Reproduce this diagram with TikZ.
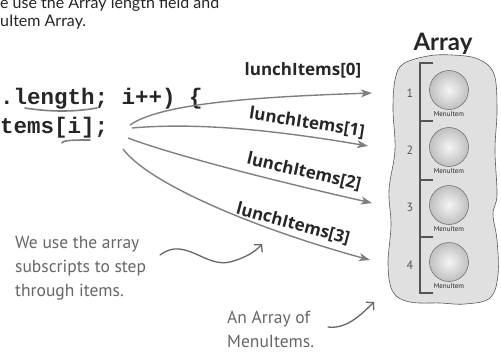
\documentclass[tikz,border=0pt]{standalone}
\usepackage{fontspec}
\usetikzlibrary{positioning, arrows.meta, calc}
\newfontfamily\codefont{Liberation Mono}
\newfontfamily\labelfont{Open Sans}
\newfontfamily\notefont{PT Sans}
\newfontfamily\headfont{Lato}
\definecolor{arrowgray}{HTML}{7F7F7F}
\definecolor{notegray}{HTML}{666666}
\definecolor{blobgray}{HTML}{E0E0E0}
\definecolor{inkgray}{HTML}{555555}

\begin{document}
\begin{tikzpicture}[
				x=1pt, y=-1pt,
				% --- STYLES ---
				toptext/.style={
					font=\headfont\fontsize{16}{18}\selectfont, anchor=base west, inner sep=0pt, text=black!85
				},
				codetext/.style={
					font=\codefont\bfseries\fontsize{22.5}{24}\selectfont, anchor=base west, inner sep=0pt, text=black!85
				},
				idxlabel/.style={
					font=\labelfont\bfseries\fontsize{17}{17}\selectfont, text=black!85, inner sep=0pt
				},
				note/.style={
					font=\notefont\fontsize{17.5}{24}\selectfont, text=notegray, align=left, inner sep=0pt, anchor=north west
				},
				line/.style={
					draw=arrowgray, line width=1.4pt, -{Stealth[length=11pt, width=8pt, inset=3pt]}
				},
				handline/.style={
					draw=notegray, line width=1.3pt, line cap=round, -{Straight Barb[length=5pt, width=11pt]}
				},
				underl/.style={
					draw=arrowgray, line width=1.6pt, line cap=round
				},
				slotball/.style={
					circle, minimum size=39pt, inner sep=0pt, draw=gray!80!black, line width=0.5pt,
					inner color=gray!8, outer color=gray!50
				},
				slotname/.style={
					font=\notefont\fontsize{7}{7}\selectfont, text=black!85, inner sep=0pt
				},
				slotnum/.style={
					font=\notefont\fontsize{12}{12}\selectfont, text=inkgray, inner sep=0pt
				}
				]
				
				\useasboundingbox (0,0) rectangle (501,356);
				\clip (0,0) rectangle (501,356);
				
				% ==========================================
				% 1. Text and code at the top left
				% ==========================================
				\node [toptext] (top1) at (0,9) {e use the Array length field and};
				\node [toptext] (top2) at (0,27) {uItem Array.};
				
				\node [codetext] (code1) at (0,104) {.length; i++) \{};
				\node [codetext] (code2) at (0,133) {tems[i];};
				\draw [underl] (25,108) .. controls (50,112) and (75,112) .. (97,108);
				\draw [underl] (62,143) .. controls (63,140) and (75,140) .. (90,140);
				
				% ==========================================
				% 2. The array with its four slots
				% ==========================================
				\node [font=\headfont\bfseries\fontsize{24}{24}\selectfont, text=black!85] (title) at (443,44) {Array};
				
				\draw [draw=gray!70!black, fill=blobgray, line width=0.6pt] plot [smooth cycle, tension=0.6] coordinates {
					(403,64) (428,56) (452,55) (478,59) (494,74) (497,110) (495,150) (497,195)
					(493,214) (497,240) (498,275) (490,298) (465,304) (440,303) (410,302)
					(393,292) (388,265) (391,225) (389,190) (395,150) (393,110) (395,80)};
				
				% bracket
				\draw [draw=inkgray, line width=1.1pt] (433,63) -- (420,63) -- (420,293) -- (433,293);
				\foreach \ty in {121,180,237}
					\draw [draw=inkgray, line width=1.1pt] (420,\ty) -- (433,\ty);
				
				% slots
				\foreach \n/\cy/\ny in {1/90/93, 2/147/150, 3/205/207, 4/262/265} {
					\node [slotnum] (num\n) at (410,\ny) {\n};
					\node [slotball] (ball\n) at (449,\cy) {};
					\node [slotname, below=1.5pt of ball\n] (name\n) {MenuItem};
				}
				
				% ==========================================
				% 3. Arrows lunchItems[0..3]
				% ==========================================
				\coordinate (src0) at (130,125);
				\coordinate (src1) at (132,128);
				\coordinate (src2) at (128,138);
				\coordinate (src3) at (123,149);
				\coordinate (dst0) at (372,93);
				\coordinate (dst1) at (368,146);
				\coordinate (dst2) at (372,203);
				\coordinate (dst3) at (370,260);
				
				\draw [line] (src0) .. controls (160,104) and (250,97) .. (dst0);
				\draw [line] (src1) .. controls (200,122) and (280,131) .. (dst1);
				\draw [line] (src2) .. controls (170,154) and (270,180) .. (dst2);
				\draw [line] (src3) .. controls (150,185) and (260,230) .. (dst3);
				
				\node [idxlabel] (lbl0) at (303,70) {lunchItems[0]};
				\node [idxlabel, rotate=-9] (lbl1) at (307,123) {lunchItems[1]};
				\node [idxlabel, rotate=-13] (lbl2) at (304,172) {lunchItems[2]};
				\node [idxlabel, rotate=-15] (lbl3) at (293,224) {lunchItems[3]};
				
				% ==========================================
				% 4. Handwritten notes
				% ==========================================
				\node [note] (note1) at (15,236) {We use the array\\subscripts to step\\through items.};
				\coordinate (note1tip) at (262,244);
				\draw [handline] (160,255) .. controls (185,236) and (205,268) .. (230,262)
					.. controls (245,258) and (255,252) .. (note1tip);
				
				\node [note] (note2) at (227,311) {An Array of\\MenuItems.};
				\coordinate (note2tip) at (374,302);
				\draw [handline] (328,327) .. controls (345,329) and (358,318) .. (note2tip);
			\end{tikzpicture}
\end{document}
